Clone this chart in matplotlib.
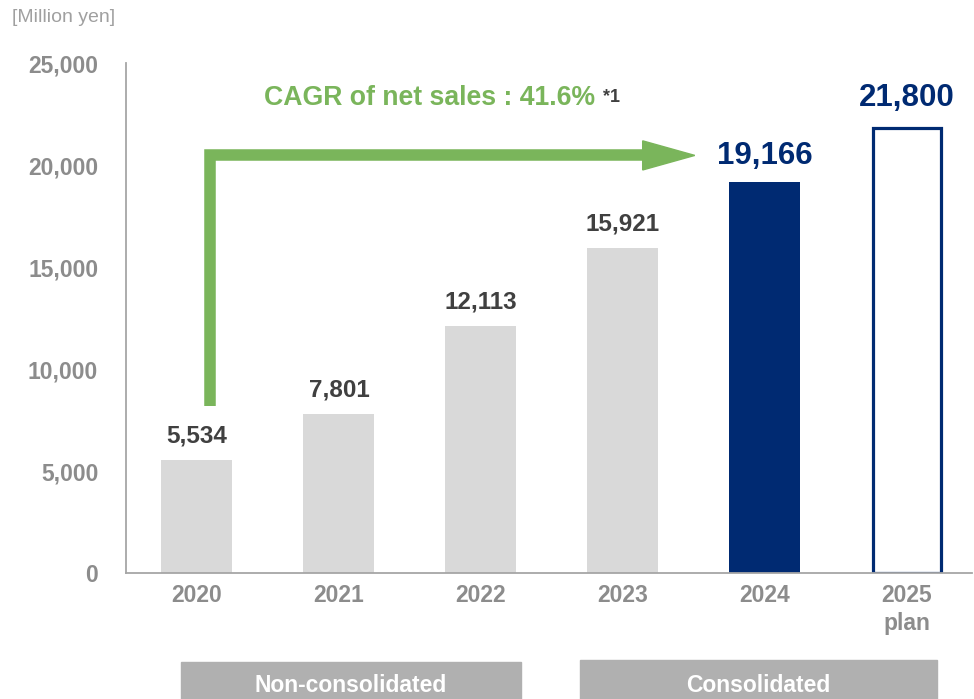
import matplotlib
matplotlib.use("Agg")
import matplotlib.pyplot as plt
from matplotlib.patches import Rectangle, Polygon

plt.rcParams['font.family'] = ['Liberation Sans', 'DejaVu Sans']

# ---- data ----
years = ["2020", "2021", "2022", "2023", "2024", "2025\nplan"]
sales = [5534, 7801, 12113, 15921, 19166, 21800]
value_labels = ["5,534", "7,801", "12,113", "15,921", "19,166", "21,800"]
y_ticks = [0, 5000, 10000, 15000, 20000, 25000]
y_tick_labels = ["0", "5,000", "10,000", "15,000", "20,000", "25,000"]
cagr_text = "CAGR of net sales : 41.6%"
unit_text = "[Million yen]"
group_labels = ["Non-consolidated", "Consolidated"]

GRAY_BAR = "#d9d9d9"
NAVY = "#002a72"
GREEN = "#7ab55b"
TICK_GRAY = "#8c8c8c"
LABEL_DARK = "#404040"
AXIS_GRAY = "#a6a6a6"
BOX_GRAY = "#b0b0b0"

fig = plt.figure(figsize=(9.74, 6.99), dpi=100)
ax = fig.add_axes([126/974, 126/699, (972-126)/974, (636-126)/699])

x = list(range(len(years)))
w = 0.5
for i, v in enumerate(sales):
    if i < 4:
        ax.bar(i, v, width=w, color=GRAY_BAR, edgecolor='none', zorder=2)
    elif i == 4:
        ax.bar(i, v, width=w, color=NAVY, edgecolor='none', zorder=2)
    else:
        ax.bar(i, v, width=w - 0.02, color='white', edgecolor=NAVY, linewidth=2.3, zorder=2)

# value labels
for i, (v, t) in enumerate(zip(sales, value_labels)):
    if i < 4:
        ax.annotate(t, (i, v), xytext=(0, 9), textcoords='offset points',
                    ha='center', va='bottom', fontsize=17.5, fontweight='bold', color=LABEL_DARK)
    elif i == 4:
        ax.annotate(t, (i, v), xytext=(0, 8), textcoords='offset points',
                    ha='center', va='bottom', fontsize=22.5, fontweight='bold', color=NAVY)
    else:
        ax.annotate(t, (i, v), xytext=(0, 11), textcoords='offset points',
                    ha='center', va='bottom', fontsize=22.5, fontweight='bold', color=NAVY)

ax.set_xlim(-0.5, 5.46)
ax.set_ylim(0, 25000)
ax.set_yticks(y_ticks)
ax.set_yticklabels(y_tick_labels)
ax.set_xticks(x)
ax.set_xticklabels(years)
ax.tick_params(axis='y', length=0, pad=20, labelsize=16.5, labelcolor=TICK_GRAY)
ax.tick_params(axis='x', length=0, pad=8, labelsize=16.5, labelcolor=TICK_GRAY)
for lab in ax.get_xticklabels() + ax.get_yticklabels():
    lab.set_fontweight('bold')
    lab.set_linespacing(1.25)
for s in ['top', 'right']:
    ax.spines[s].set_visible(False)
for s in ['left', 'bottom']:
    ax.spines[s].set_color(AXIS_GRAY)
    ax.spines[s].set_linewidth(1.3)

# CAGR arrow
ax_x, ax_y0, ax_y1, head_x, tip_x = 0.092, 8170, 20470, 3.14, 3.507
ax.plot([ax_x, ax_x, head_x + 0.01], [ax_y0, ax_y1, ax_y1], color=GREEN, linewidth=8.3,
        solid_capstyle='butt', solid_joinstyle='miter', zorder=3, clip_on=False)
ax.add_patch(Polygon([(head_x, ax_y1 + 714), (tip_x, ax_y1), (head_x, ax_y1 - 714)],
                     closed=True, color=GREEN, zorder=3, clip_on=False))
ax.text(0.47, 23280, cagr_text, ha='left', va='center', fontsize=19.2, fontweight='bold',
        color=GREEN, clip_on=False)
ax.text(2.86, 23330, "*1", ha='left', va='center', fontsize=13, fontweight='bold',
        color=LABEL_DARK, clip_on=False)

# unit label
fig.text(12/974, 1 - 17/699, unit_text, ha='left', va='center', fontsize=14, color="#a0a0a0")

# group boxes
boxes = [(181, 521, 662), (580, 937, 660)]
for (x0, x1, top), lab in zip(boxes, group_labels):
    fig.patches.append(Rectangle((x0/974, 0), (x1-x0)/974, (699-top)/699,
                                 transform=fig.transFigure, color=BOX_GRAY, zorder=1))
    fig.text((x0+x1)/2/974, 1 - 685/699, lab, ha='center', va='center', fontsize=16.5,
             fontweight='bold', color='white')

fig.savefig("out.png", dpi=100)
